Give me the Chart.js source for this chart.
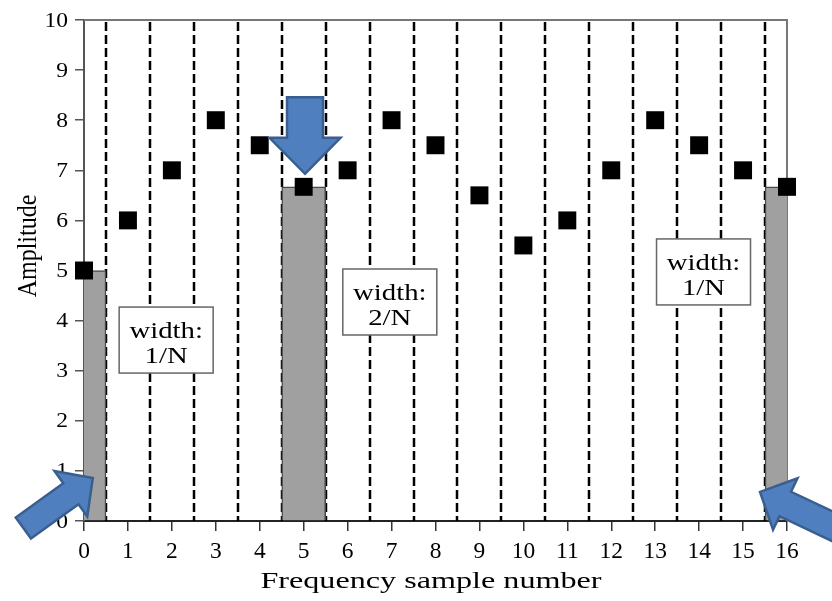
<!DOCTYPE html>
<html>
<head>
<meta charset="utf-8">
<script src="https://cdn.jsdelivr.net/npm/chart.js@4"></script>
<style>
  html, body { margin: 0; background: #fff; }
  canvas { display: block; }
</style>
</head>
<body>
<canvas id="myChart" width="832" height="601"></canvas>
<script>
// frequency samples and their amplitudes
var sampleNumbers = [0, 1, 2, 3, 4, 5, 6, 7, 8, 9, 10, 11, 12, 13, 14, 15, 16];
var amplitudes = [5, 6, 7, 8, 7.5, 6.67, 7, 8, 7.5, 6.5, 5.5, 6, 7, 8, 7.5, 7, 6.67];
// samples shown as gray bars
var barSamples = [0, 5, 16];
var barHeights = [5, 6.67, 6.67];
// axis ticks
var xTicks = [0, 1, 2, 3, 4, 5, 6, 7, 8, 9, 10, 11, 12, 13, 14, 15, 16];
var yTicks = [0, 1, 2, 3, 4, 5, 6, 7, 8, 9, 10];
var boxTexts = [["width:", "1/N"], ["width:", "2/N"], ["width:", "1/N"]];

// dashed separators between neighbouring samples
var dividers = sampleNumbers.slice(0, -1).map(function (n) { return n + 0.5; });

// note boxes and arrows, placed in axis units
var boxes = [
  { x: 1.87, top: 4.27 },
  { x: 6.96, top: 5.03 },
  { x: 14.1, top: 5.63 }
];
var arrows = [
  { tip: [0.2, 0.86], tail: [-1.38, -0.14], shaft: 26, head: 56, headLen: 27 },
  { tip: [15.385, 0.58], tail: [17.64, -0.36], shaft: 27, head: 57, headLen: 28 },
  { tip: [5.03, 6.93], tail: [5.03, 8.46], shaft: 36, head: 71, headLen: 36 }
];

var SERIF = '"Liberation Serif", "Times New Roman", serif';

function stretchedText(ctx, text, x, y, size, sx, align, baseline) {
  ctx.save();
  ctx.font = size + 'px ' + SERIF;
  ctx.fillStyle = '#000';
  ctx.textAlign = align;
  ctx.textBaseline = baseline;
  ctx.translate(x, y);
  ctx.scale(sx, 1);
  ctx.fillText(text, 0, 0);
  ctx.restore();
}

function drawArrow(ctx, tx, ty, bx, by, a) {
  var ang = Math.atan2(ty - by, tx - bx);
  var len = Math.hypot(tx - bx, ty - by);
  ctx.save();
  ctx.translate(tx, ty);
  ctx.rotate(ang);
  ctx.beginPath();
  ctx.moveTo(0, 0);
  ctx.lineTo(-a.headLen, -a.head / 2);
  ctx.lineTo(-a.headLen, -a.shaft / 2);
  ctx.lineTo(-len, -a.shaft / 2);
  ctx.lineTo(-len, a.shaft / 2);
  ctx.lineTo(-a.headLen, a.shaft / 2);
  ctx.lineTo(-a.headLen, a.head / 2);
  ctx.closePath();
  ctx.fillStyle = '#4f7fbe';
  ctx.fill();
  ctx.lineWidth = 2.5;
  ctx.lineJoin = 'miter';
  ctx.strokeStyle = '#3a5f8f';
  ctx.stroke();
  ctx.restore();
}

var backdrop = {
  id: 'backdrop',
  beforeDatasetsDraw: function (chart) {
    var ctx = chart.ctx, area = chart.chartArea, x = chart.scales.x;
    ctx.save();
    // frame on top and right
    ctx.strokeStyle = '#777';
    ctx.lineWidth = 2;
    ctx.beginPath();
    ctx.moveTo(area.left, area.top);
    ctx.lineTo(area.right, area.top);
    ctx.lineTo(area.right, area.bottom);
    ctx.stroke();
    // dashed separators
    ctx.setLineDash([9, 4]);
    ctx.lineDashOffset = -2;
    ctx.lineWidth = 2.5;
    ctx.strokeStyle = '#000';
    dividers.forEach(function (v) {
      var px = Math.round(x.getPixelForValue(v));
      ctx.beginPath();
      ctx.moveTo(px, area.top);
      ctx.lineTo(px, area.bottom);
      ctx.stroke();
    });
    ctx.restore();
  }
};

var notes = {
  id: 'notes',
  afterDraw: function (chart) {
    var ctx = chart.ctx, x = chart.scales.x, y = chart.scales.y;

    // boxes
    boxes.forEach(function (b, i) {
      var cx = x.getPixelForValue(b.x), top = y.getPixelForValue(b.top);
      ctx.save();
      ctx.fillStyle = '#fff';
      ctx.strokeStyle = '#666';
      ctx.lineWidth = 1.5;
      ctx.fillRect(cx - 47, top, 94, 66);
      ctx.strokeRect(cx - 47, top, 94, 66);
      ctx.restore();
      stretchedText(ctx, boxTexts[i][0], cx, top + 31, 23, 1.25, 'center', 'alphabetic');
      stretchedText(ctx, boxTexts[i][1], cx, top + 56, 23, 1.25, 'center', 'alphabetic');
    });

    // tick labels
    yTicks.forEach(function (t) {
      stretchedText(ctx, String(t), 68, y.getPixelForValue(t) + 1, 21, 1.12, 'right', 'middle');
    });
    xTicks.forEach(function (t) {
      stretchedText(ctx, String(t), x.getPixelForValue(t), 558, 23, 1.02, 'center', 'alphabetic');
    });

    // axis titles
    stretchedText(ctx, 'Frequency sample number', 431, 588, 24, 1.34, 'center', 'alphabetic');
    ctx.save();
    ctx.translate(36, 246);
    ctx.rotate(-Math.PI / 2);
    ctx.scale(1, 1.15);
    ctx.font = '24px ' + SERIF;
    ctx.fillStyle = '#000';
    ctx.textAlign = 'center';
    ctx.textBaseline = 'alphabetic';
    ctx.fillText('Amplitude', 0, 0);
    ctx.restore();

    // arrows
    arrows.forEach(function (a) {
      drawArrow(ctx,
        x.getPixelForValue(a.tip[0]), y.getPixelForValue(a.tip[1]),
        x.getPixelForValue(a.tail[0]), y.getPixelForValue(a.tail[1]), a);
    });
  }
};

new Chart('myChart', {
  type: 'scatter',
  data: {
    datasets: [{
      type: 'scatter',
      order: 0,
      data: sampleNumbers.map(function (n, i) { return { x: n, y: amplitudes[i] }; }),
      pointStyle: 'rect',
      pointRadius: 12.7,
      backgroundColor: '#000',
      borderWidth: 0,
      clip: false
    }, {
      type: 'bar',
      order: 1,
      data: barSamples.map(function (n, i) { return { x: n, y: barHeights[i] }; }),
      backgroundColor: '#a0a0a0',
      borderColor: '#4a4a4a',
      borderWidth: 1.5,
      barPercentage: 1,
      categoryPercentage: 1,
      clip: 0
    }]
  },
  plugins: [backdrop, notes],
  options: {
    responsive: false,
    animation: false,
    events: [],
    layout: { padding: { top: 20, right: 45, left: 0, bottom: 0 } },
    plugins: { legend: { display: false }, tooltip: { enabled: false } },
    scales: {
      x: {
        type: 'linear',
        min: 0,
        max: 16,
        offset: false,
        ticks: { stepSize: 1, display: false },
        grid: { offset: false, drawOnChartArea: false, drawTicks: true, tickLength: 10, color: '#333', lineWidth: 1.5 },
        border: { color: '#222', width: 2 },
        afterFit: function (s) { s.height = 80; }
      },
      y: {
        min: 0,
        max: 10,
        ticks: { stepSize: 1, display: false },
        grid: { drawOnChartArea: false, drawTicks: true, tickLength: 9, color: '#555', lineWidth: 1.5 },
        border: { color: '#555', width: 2 },
        afterFit: function (s) { s.width = 84; }
      }
    }
  }
});
</script>
</body>
</html>
